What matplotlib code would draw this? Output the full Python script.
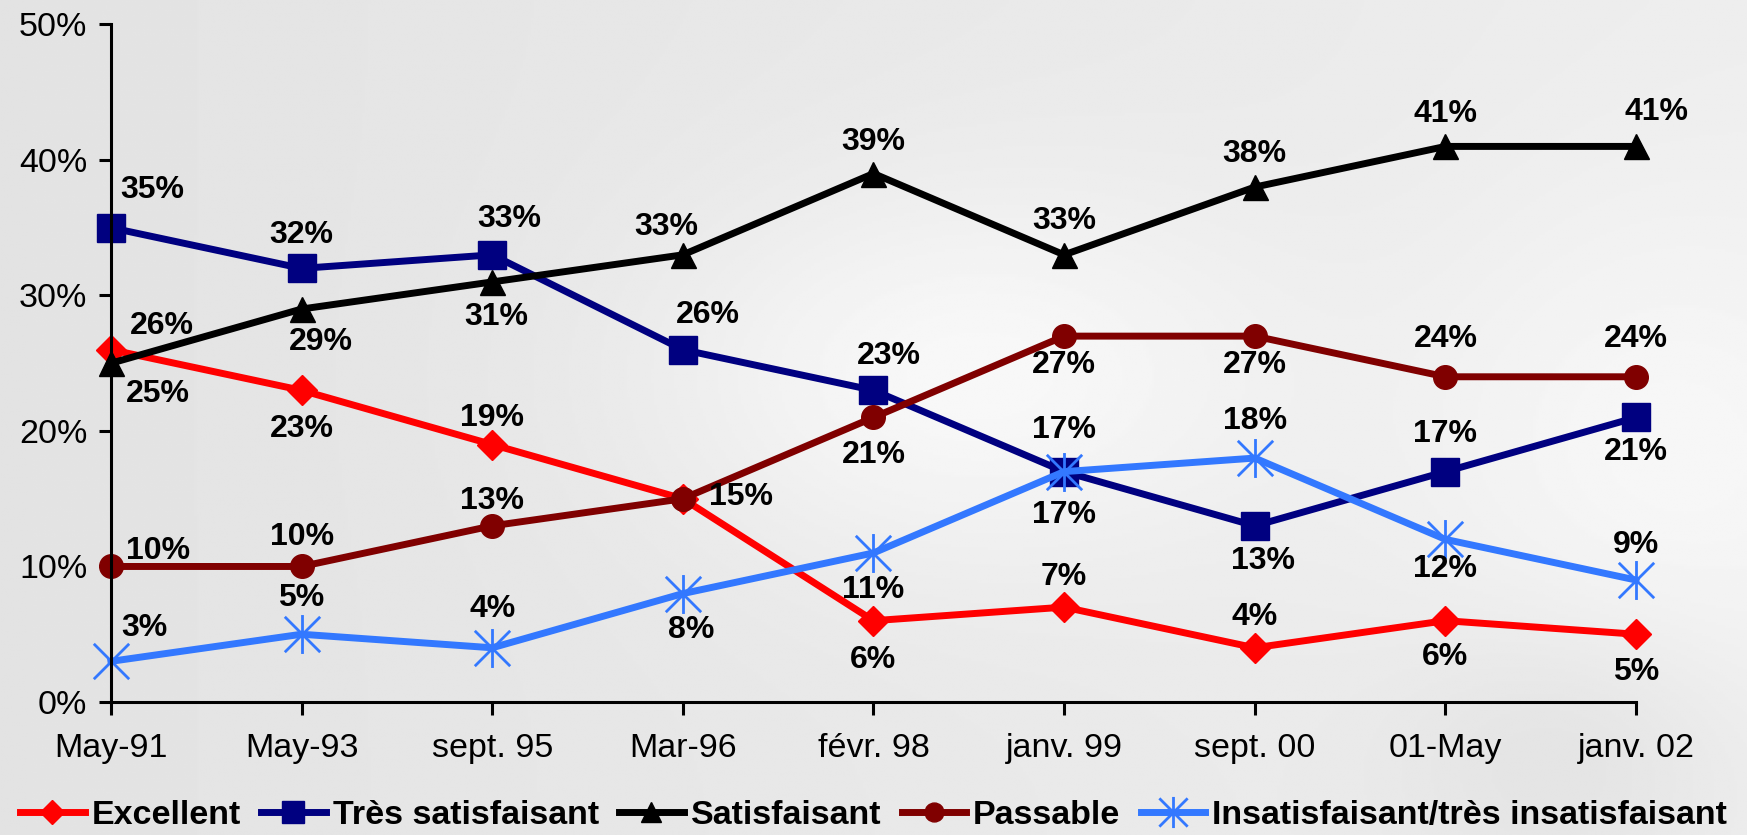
import matplotlib
matplotlib.use("Agg")
import matplotlib.pyplot as plt
import numpy as np
from matplotlib.path import Path

plt.rcParams["font.family"] = ["Liberation Sans", "DejaVu Sans"]

# Survey dates (x categories)
periods = ["May-91", "May-93", "sept. 95", "Mar-96", "févr. 98",
           "janv. 99", "sept. 00", "01-May", "janv. 02"]

# Share of answers per rating, in percent
excellent = [26, 23, 19, 15, 6, 7, 4, 6, 5]
tres_satisfaisant = [35, 32, 33, 26, 23, 17, 13, 17, 21]
satisfaisant = [25, 29, 31, 33, 39, 33, 38, 41, 41]
passable = [10, 10, 13, 15, 21, 27, 27, 24, 24]
insatisfaisant = [3, 5, 4, 8, 11, 17, 18, 12, 9]

# Excel-like asterisk marker: an X plus a vertical bar
STAR = Path([(-1, -1), (1, 1), (-1, 1), (1, -1), (0, -1.1), (0, 1.1)],
            [Path.MOVETO, Path.LINETO] * 3)

# (label, values, colour, marker, markersize, label offsets in points)
SERIES = [
    ("Excellent", excellent, "#FF0000", "D", 15,
     [(37, 17), (0, -28), (0, 19), (42, 1), (0, -28), (0, 22), (0, 22), (0, -26), (0, -27)]),
    ("Très satisfaisant", tres_satisfaisant, "#000080", "s", 20,
     [(30, 27), (0, 24), (12, 26), (18, 25), (11, 25), (0, -31), (6, -25), (0, 27), (0, -25)]),
    ("Satisfaisant", satisfaisant, "#000000", "^", 18,
     [(34, -22), (14, -24), (3, -25), (-12, 20), (0, 23), (0, 24), (0, 24), (0, 23), (15, 25)]),
    ("Passable", passable, "#800000", "o", 17,
     [(34, 11), (0, 21), (0, 18), None, (0, -27), (0, -21), (0, -21), (0, 27), (0, 27)]),
    ("Insatisfaisant/très insatisfaisant", insatisfaisant, "#3378FF", STAR, 28,
     [(24, 24), (0, 26), (0, 28), (6, -26), (0, -27), (0, 30), (0, 27), (0, -21), (0, 25)]),
]

fig = plt.figure(figsize=(17.47, 8.35), dpi=100)

# soft grey backdrop standing in for the slide's texture
bg = fig.add_axes([0, 0, 1, 1], zorder=-10)
yy, xx = np.mgrid[0:1:300j, 0:1:600j]
shade = (0.89 + 0.04 * xx
         + 0.06 * np.exp(-((xx - 0.55) ** 2 / 0.03 + (yy - 0.45) ** 2 / 0.05))
         + 0.04 * np.exp(-((xx - 0.95) ** 2 / 0.02 + (yy - 0.55) ** 2 / 0.1))
         - 0.04 * np.exp(-((xx - 0.9) ** 2 / 0.01 + (yy - 0.9) ** 2 / 0.03)))
bg.imshow(np.clip(shade, 0, 1), cmap="gray", vmin=0, vmax=1,
          aspect="auto", extent=[0, 1, 0, 1])
bg.axis("off")

ax = fig.add_axes([0.0635, 0.1593, 0.873, 0.8114])
ax.patch.set_alpha(0)
x = np.arange(len(periods))

for label, values, color, marker, ms, offsets in SERIES:
    ax.plot(x, values, color=color, lw=5, marker=marker, ms=ms,
            mfc="none" if marker is STAR else color, mec=color,
            mew=2 if marker is STAR else 1, label=label, clip_on=False)
    for xi, v, off in zip(x, values, offsets):
        if off is None:
            continue
        ax.annotate(f"{v}%", (xi, v), xytext=off, textcoords="offset points",
                    ha="center", va="center", fontsize=23, fontweight="bold")

ax.set_xlim(0, len(periods) - 1)
ax.set_ylim(0, 50)
ax.set_xticks(x)
ax.set_xticklabels(periods)
ax.set_yticks(range(0, 51, 10))
ax.set_yticklabels([f"{t}%" for t in range(0, 51, 10)])
ax.tick_params(axis="both", direction="out", length=9, width=2.2, labelsize=24.5)
ax.tick_params(axis="x", pad=13)
ax.tick_params(axis="y", pad=8)
for side in ("top", "right"):
    ax.spines[side].set_visible(False)
for side in ("left", "bottom"):
    ax.spines[side].set_linewidth(2.2)

leg = fig.legend(loc="lower center", bbox_to_anchor=(0.5, -0.032), ncol=5,
                 frameon=False, handlelength=1.9, columnspacing=0.6,
                 handletextpad=0.2, prop={"weight": "bold", "size": 24.5})
for h in leg.legend_handles:
    h.set_markersize(h.get_markersize() * 0.8)

fig.savefig("out.png", dpi=100)
